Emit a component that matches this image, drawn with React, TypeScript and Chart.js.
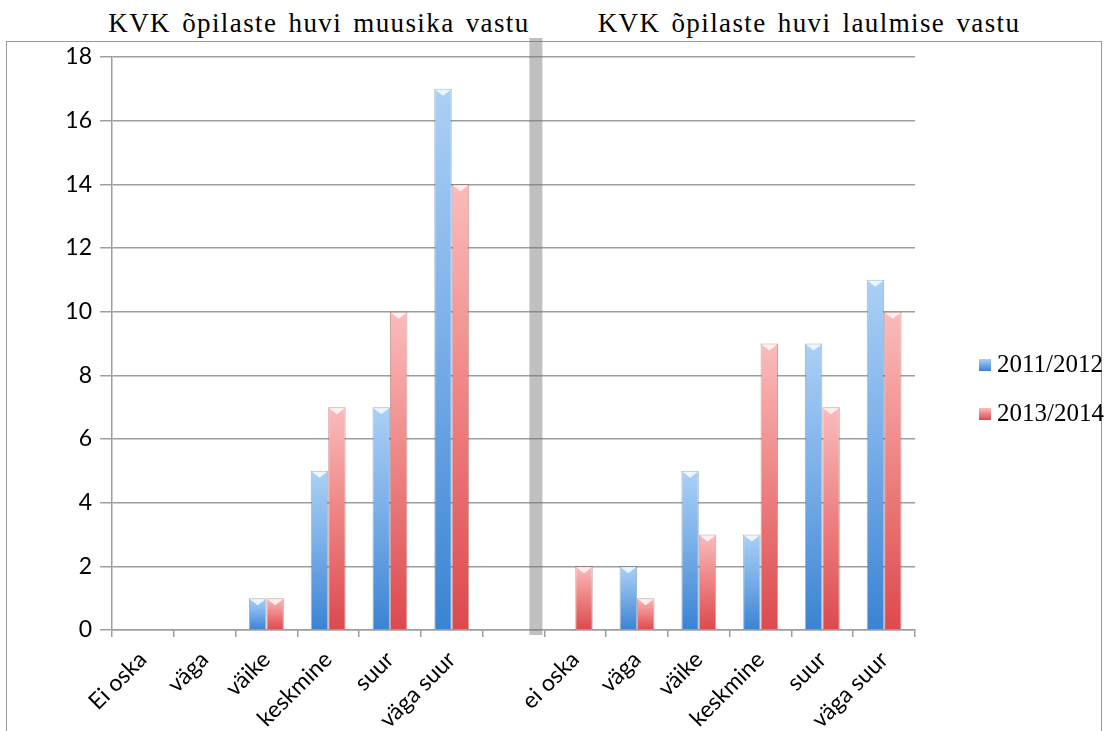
import { useEffect, useRef } from 'react';
import { Chart, registerables } from 'chart.js';

Chart.register(...registerables);

// ---- data ----
const leftTitle = 'KVK õpilaste huvi muusika vastu';
const rightTitle = 'KVK õpilaste huvi laulmise vastu';
const leftCategories = ['Ei oska', 'väga', 'väike', 'keskmine', 'suur', 'väga suur'];
const rightCategories = ['ei oska', 'väga', 'väike', 'keskmine', 'suur', 'väga suur'];
const seriesLabels = ['2011/2012', '2013/2014'];
const music2011 = [0, 0, 1, 5, 7, 17];
const music2013 = [0, 0, 1, 7, 10, 14];
const singing2011 = [0, 2, 5, 3, 9, 11];
const singing2013 = [2, 1, 3, 9, 7, 10];
const yMin = 0;
const yMax = 18;
const yStep = 2;

// ---- styles ----
const BLUE_LIGHT = '#abd0f6';
const BLUE_MID = '#7bb0e9';
const BLUE_DARK = '#3a83d2';
const RED_LIGHT = '#fabcbc';
const RED_MID = '#ef8787';
const RED_DARK = '#dc494d';
const GRID = '#9e9e9e';
const TICK_FONT = 'Lato';
const SERIF = '"Liberation Serif", serif';

function barFill(ctx: any, light: string, mid: string, dark: string) {
  const chart = ctx.chart;
  const ys = chart.scales ? chart.scales.y : null;
  if (ctx.type !== 'data' || !ys || !ctx.parsed) return dark;
  const v = ctx.parsed.y;
  if (v == null) return dark;
  const top = ys.getPixelForValue(v);
  const bot = ys.getPixelForValue(0);
  if (!isFinite(top) || !isFinite(bot) || Math.abs(bot - top) < 1) return dark;
  const g = chart.ctx.createLinearGradient(0, top, 0, bot);
  g.addColorStop(0, light);
  g.addColorStop(0.45, mid);
  g.addColorStop(1, dark);
  return g;
}

const separatorPlugin = {
  id: 'separator',
  beforeDatasetsDraw(chart: any) {
    const x = chart.scales.x;
    const area = chart.chartArea;
    const gapIndex = leftCategories.length;
    const boundary = (x.getPixelForValue(gapIndex) + x.getPixelForValue(gapIndex + 1)) / 2;
    const c = chart.ctx;
    c.save();
    c.fillStyle = 'rgba(115,115,115,0.45)';
    c.fillRect(boundary - 15, area.top - 19, 13, area.bottom - area.top + 24);
    c.restore();
  },
};

const bevelPlugin = {
  id: 'bevel',
  afterDatasetsDraw(chart: any) {
    const c = chart.ctx;
    c.save();
    chart.getSortedVisibleDatasetMetas().forEach((meta: any) => {
      meta.data.forEach((bar: any) => {
        const p = bar.getProps(['x', 'y', 'base', 'width'], true);
        if (!isFinite(p.y) || p.base - p.y < 3) return;
        const h = Math.min(6, (p.base - p.y) / 2);
        c.fillStyle = 'rgba(255,255,255,0.8)';
        c.beginPath();
        c.moveTo(p.x - p.width / 2 + 1, p.y + 1);
        c.lineTo(p.x + p.width / 2 - 1, p.y + 1);
        c.lineTo(p.x, p.y + 1 + h);
        c.closePath();
        c.fill();
      });
    });
    c.restore();
  },
};

export default function App() {
  const ref = useRef<HTMLCanvasElement>(null);

  useEffect(() => {
    const labels = [...leftCategories, '', ...rightCategories];
    const s1 = [...music2011, null, ...singing2011];
    const s2 = [...music2013, null, ...singing2013];
    const chart = new Chart(ref.current as HTMLCanvasElement, {
      type: 'bar',
      data: {
        labels,
        datasets: [
          {
            label: seriesLabels[0],
            data: s1,
            backgroundColor: (ctx: any) => barFill(ctx, BLUE_LIGHT, BLUE_MID, BLUE_DARK),
            borderColor: 'rgba(40,90,150,0.45)',
            borderWidth: 1,
            borderSkipped: 'bottom',
            categoryPercentage: 0.565,
            barPercentage: 1,
          },
          {
            label: seriesLabels[1],
            data: s2,
            backgroundColor: (ctx: any) => barFill(ctx, RED_LIGHT, RED_MID, RED_DARK),
            borderColor: 'rgba(150,40,40,0.45)',
            borderWidth: 1,
            borderSkipped: 'bottom',
            categoryPercentage: 0.565,
            barPercentage: 1,
          },
        ],
      },
      options: {
        responsive: false,
        animation: false,
        devicePixelRatio: 1,
        layout: { padding: { left: 0, right: 197, top: 57, bottom: 0 } },
        plugins: {
          legend: { display: false },
          title: { display: false },
          tooltip: { enabled: false },
        },
        scales: {
          x: {
            offset: true,
            grid: {
              display: true,
              offset: true,
              drawOnChartArea: false,
              drawTicks: true,
              tickLength: 7,
              color: GRID,
              lineWidth: 1.5,
            },
            border: { display: true, color: GRID, width: 1.5 },
            ticks: {
              autoSkip: false,
              minRotation: 45,
              maxRotation: 45,
              padding: 9,
              color: '#000',
              font: { family: TICK_FONT, size: 23 },
            },
            afterFit: (scale: any) => {
              scale.height = 101;
            },
          },
          y: {
            min: yMin,
            max: yMax,
            ticks: {
              stepSize: yStep,
              padding: 8,
              color: '#000',
              font: { family: TICK_FONT, size: 23 },
            },
            grid: {
              color: GRID,
              lineWidth: 1.5,
              tickLength: 12,
            },
            border: { display: true, color: GRID, width: 1.5 },
            afterFit: (scale: any) => {
              scale.width = 112;
            },
          },
        },
      },
      plugins: [separatorPlugin, bevelPlugin],
    });
    return () => chart.destroy();
  }, []);

  const titleStyle: any = {
    position: 'absolute',
    top: 9,
    width: 600,
    textAlign: 'center',
    fontFamily: SERIF,
    fontSize: 27,
    lineHeight: '28px',
    letterSpacing: '1.4px',
    wordSpacing: '3px',
    color: '#000',
    whiteSpace: 'nowrap',
  };
  const legendText: any = {
    position: 'absolute',
    left: 997,
    fontFamily: SERIF,
    fontSize: 25,
    lineHeight: '24px',
    color: '#000',
    whiteSpace: 'nowrap',
  };
  const swatch = (light: string, dark: string, top: number): any => ({
    position: 'absolute',
    left: 979,
    top,
    width: 12,
    height: 12,
    background: `linear-gradient(${light}, ${dark})`,
  });

  return (
    <div style={{ position: 'fixed', left: 0, top: 0, width: 1112, height: 731, background: '#fff', overflow: 'hidden' }}>
      <div
        style={{
          position: 'absolute',
          left: 6,
          top: 41,
          width: 1094,
          height: 720,
          borderTop: '1px solid #9a9a9a',
          borderLeft: '1px solid #9a9a9a',
          borderRight: '1px solid #9a9a9a',
        }}
      />
      <div style={{ ...titleStyle, left: 319 - 300 }}>{leftTitle}</div>
      <div style={{ ...titleStyle, left: 809 - 300 }}>{rightTitle}</div>
      <canvas ref={ref} width={1112} height={731} style={{ position: 'absolute', left: 0, top: 0, width: 1112, height: 731 }} />
      <div style={swatch(BLUE_LIGHT, BLUE_DARK, 359)} />
      <div style={{ ...legendText, top: 352 }}>{seriesLabels[0]}</div>
      <div style={swatch(RED_LIGHT, RED_DARK, 408)} />
      <div style={{ ...legendText, top: 401 }}>{seriesLabels[1]}</div>
    </div>
  );
}
